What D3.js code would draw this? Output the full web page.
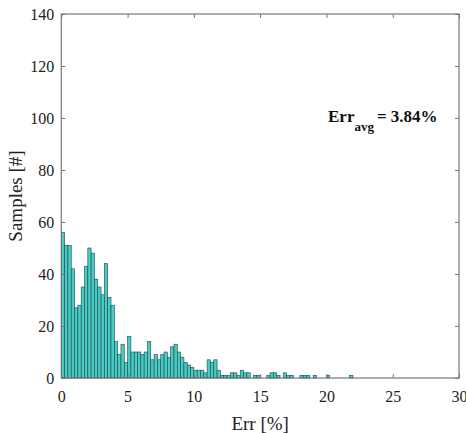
<!DOCTYPE html>
<meta charset="UTF-8">
<style>
    body { margin: 0; background: #fff; }
    .tick text { font-family: "Liberation Serif", serif; font-size: 16px; fill: #222; }
    .tick line { stroke: #777; }
    .bar { fill: #48cbc6; stroke: #1d4a4a; stroke-width: 0.6px; }
</style>
<body>
<div id="chart"></div>
<script src="https://d3js.org/d3.v7.min.js"></script>
<script>

    // histogram bins (width 0.25 %) starting at 0
    var binWidth = 0.25;
    var counts = [
        56, 51, 51, 42, 27, 28, 35, 43, 50, 48, 38, 35, 32, 44, 31, 28,
        14, 9, 13, 6, 16, 10, 10, 10, 9, 10, 14,
        7, 9, 7, 9, 10, 8, 12, 13, 10, 8, 6, 5, 4, 3, 3, 3, 2, 7, 6, 7, 3, 1,
        1, 1, 2, 2, 1, 3, 2, 2, 0, 1, 1, 0, 0, 1, 2, 2, 1, 0, 2, 1, 1, 0,
        0, 1, 1, 1, 0, 1, 0, 0, 0, 1, 0, 0, 0, 0, 0, 0, 1, 0
    ];
    var xTicks = [0, 5, 10, 15, 20, 25, 30];
    var yTicks = [0, 20, 40, 60, 80, 100, 120, 140];
    var errAvg = "3.84%";

    var width = 466, height = 433;
    var margin = {top: 14, right: 7, bottom: 55, left: 61.3};

    var x = d3.scaleLinear().domain([0, 30]).range([margin.left, width - margin.right]);
    var y = d3.scaleLinear().domain([0, 140]).range([height - margin.bottom, margin.top]);

    var svg = d3.select("#chart").append("svg")
        .attr("width", width)
        .attr("height", height);

    // bars
    svg.append("g")
        .selectAll("rect")
        .data(counts)
        .enter().append("rect")
        .attr("class", "bar")
        .attr("x", function(d, i) { return x(i * binWidth); })
        .attr("width", function(d, i) { return x((i + 1) * binWidth) - x(i * binWidth); })
        .attr("y", function(d) { return y(d); })
        .attr("height", function(d) { return y(0) - y(d); });

    // axes, ticks pointing inward
    var axisB = svg.append("g")
        .attr("transform", "translate(0," + y(0) + ")")
        .call(d3.axisBottom(x).tickValues(xTicks).tickSize(-4).tickPadding(13));
    var axisT = svg.append("g")
        .attr("transform", "translate(0," + y(140) + ")")
        .call(d3.axisTop(x).tickValues(xTicks).tickSize(-4).tickFormat(""));
    var axisL = svg.append("g")
        .attr("transform", "translate(" + x(0) + ",0)")
        .call(d3.axisLeft(y).tickValues(yTicks).tickSize(-4).tickPadding(7));
    var axisR = svg.append("g")
        .attr("transform", "translate(" + x(30) + ",0)")
        .call(d3.axisRight(y).tickValues(yTicks).tickSize(-4).tickFormat(""));

    [axisB, axisT, axisL, axisR].forEach(function(g) {
        g.select(".domain").remove();
    });

    // box
    svg.append("rect")
        .attr("x", x(0))
        .attr("y", y(140))
        .attr("width", x(30) - x(0))
        .attr("height", y(0) - y(140))
        .attr("fill", "none")
        .attr("stroke", "#777")
        .attr("stroke-width", 1.2);

    // axis labels
    svg.append("text")
        .attr("x", (x(0) + x(30)) / 2)
        .attr("y", 430)
        .attr("text-anchor", "middle")
        .style("font-family", "Liberation Serif, serif")
        .style("font-size", "19px")
        .style("fill", "#222")
        .text("Err [%]");

    svg.append("text")
        .attr("transform", "translate(22," + (y(0) + y(140)) / 2 + ") rotate(-90)")
        .attr("text-anchor", "middle")
        .style("font-family", "Liberation Serif, serif")
        .style("font-size", "19px")
        .style("fill", "#222")
        .text("Samples [#]");

    // annotation
    var note = svg.append("text")
        .attr("x", 328)
        .attr("y", 122)
        .style("font-family", "Liberation Serif, serif")
        .style("font-weight", "bold")
        .style("font-size", "17px")
        .style("fill", "#111");
    note.append("tspan").text("Err");
    note.append("tspan").attr("dy", 9).style("font-size", "13px").text("avg");
    note.append("tspan").attr("dy", -9).attr("dx", 3).text("= " + errAvg);

</script>
</body>
